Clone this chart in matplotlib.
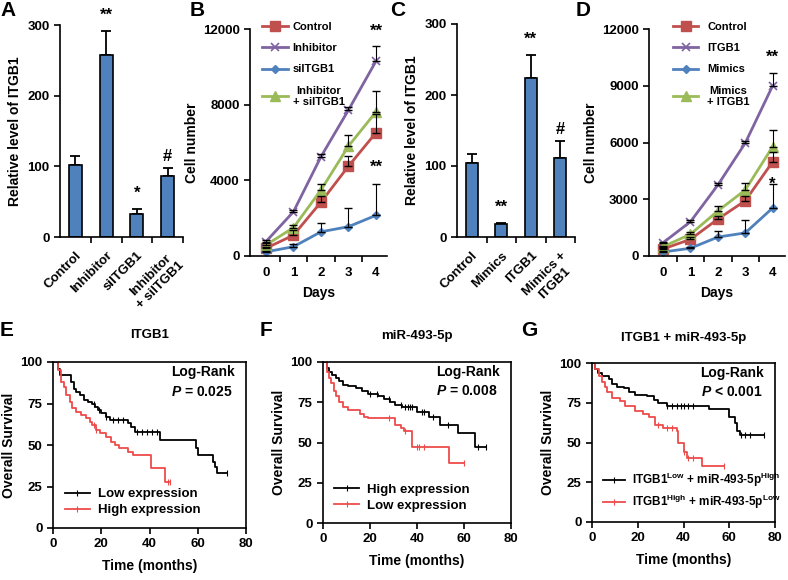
import numpy as np
import matplotlib
matplotlib.use('Agg')
import matplotlib.pyplot as plt
from matplotlib.lines import Line2D

plt.rcParams['font.family'] = ['Liberation Sans', 'DejaVu Sans']
plt.rcParams['font.weight'] = 'bold'
plt.rcParams['axes.labelweight'] = 'bold'
plt.rcParams['mathtext.fontset'] = 'custom'
plt.rcParams['mathtext.rm'] = 'Liberation Sans:bold'
plt.rcParams['mathtext.it'] = 'Liberation Sans:italic:bold'
plt.rcParams['mathtext.bf'] = 'Liberation Sans:bold'

# ---- panel A / C data (relative ITGB1 level)
a_labels = ['Control', 'Inhibitor', 'siITGB1', 'Inhibitor\n+ siITGB1']
a_vals = [102, 258, 32, 86]
a_err = [13, 33, 8, 11]
a_marks = ['', '**', '*', '#']

c_labels = ['Control', 'Mimics', 'ITGB1', 'Mimics +\nITGB1']
c_vals = [104, 18, 224, 111]
c_err = [13, 2, 32, 24]
c_marks = ['', '**', '**', '#']

# ---- panel B / D data (cell number by day)
days = [0, 1, 2, 3, 4]
b_names = ['Control', 'Inhibitor', 'siITGB1', 'Inhibitor\n+ siITGB1']
b_control = [410, 1100, 2850, 4750, 6520]
b_control_err = [80, 250, 300, 550, 1000]
b_inhibitor = [760, 2340, 5250, 7720, 10300]
b_inhibitor_err = [100, 100, 150, 150, 800]
b_si = [220, 490, 1280, 1550, 2150]
b_si_err = [50, 150, 470, 1000, 1650]
b_combo = [580, 1500, 3490, 5810, 7620]
b_combo_err = [100, 150, 300, 600, 1120]

d_names = ['Control', 'ITGB1', 'Mimics', 'Mimics\n+ ITGB1']
d_control = [370, 880, 1950, 2920, 4980]
d_control_err = [60, 100, 150, 250, 500]
d_itgb1 = [700, 1810, 3750, 5970, 9000]
d_itgb1_err = [60, 80, 100, 100, 650]
d_mimics = [210, 410, 1000, 1220, 2540]
d_mimics_err = [40, 80, 340, 690, 1270]
d_combo = [490, 1150, 2380, 3490, 5780]
d_combo_err = [60, 100, 260, 390, 880]

# ---- Kaplan-Meier data (step times in months, survival in %)
e_low_t = [0, 2, 3, 7.5, 8.6, 9.7, 11, 13, 14.5, 16, 17.5, 18.5, 20, 22, 23.5, 31, 32.5, 34, 44.3, 59.2, 60.2, 61, 66.4, 67, 68, 72]
e_low_s = [100, 96, 92, 88, 84, 82, 80, 77, 76, 75, 73, 71, 69, 67, 65, 63, 61, 58, 53, 48, 44, 44, 40, 37, 33, 33]
e_low_cens = [17, 19, 22, 25, 27, 29, 35, 37, 39, 41, 43, 72]
e_high_t = [0, 2, 3.5, 4.4, 5.5, 6.9, 8, 9.7, 11.8, 13.6, 15.2, 16.3, 18, 19.4, 22, 24, 25.6, 27.4, 31, 33, 40.8, 46.6, 48.4]
e_high_s = [100, 95, 88, 85, 80, 76, 72, 70, 68, 66, 64, 62, 59, 57, 55, 52, 50, 48, 46, 44, 36, 28, 28]
e_high_cens = [17, 18, 47.5, 48.4]

f_high_t = [0, 1.5, 2.5, 4, 5.5, 7, 8.5, 10.5, 14, 16.5, 19, 23.5, 26, 28.5, 30.6, 33.5, 40, 45, 50, 57.6, 64.8, 69.5]
f_high_s = [100, 96, 94, 92, 90, 88, 86, 85, 84, 82, 80, 79, 77, 75, 73, 72, 69, 66, 61, 56, 47, 47]
f_high_cens = [20, 23, 28, 33, 35, 36, 37, 38, 42, 43, 47, 53, 66, 69.5]
f_low_t = [0, 1.5, 2.5, 3.5, 4.5, 5.5, 7, 8.5, 10.5, 15.6, 17.5, 19, 30.6, 33, 34.5, 38, 53.5, 60]
f_low_s = [100, 94, 90, 87, 82, 79, 75, 72, 70, 68, 66, 65, 61, 59, 57, 47, 37, 37]
f_low_cens = [28, 35, 40, 41, 43, 60]

g_good_t = [0, 1.5, 2.5, 4.4, 7.3, 8.7, 11, 13.8, 16, 19, 24, 27, 29, 32.7, 51, 60, 62.5, 63.5, 64.5, 75]
g_good_s = [100, 96, 94, 92, 90, 87, 85, 84, 82, 80, 79, 77, 75, 73, 71, 66, 62, 57, 55, 55]
g_good_cens = [33, 35, 37, 39, 40, 42, 44, 65, 67, 69, 75]
g_bad_t = [0, 1.5, 3, 4.4, 5.8, 6.5, 8.7, 12.4, 14.5, 19, 22.5, 24.7, 27.6, 31, 37, 37.8, 40, 41.5, 48, 57.5]
g_bad_s = [100, 96, 92, 88, 85, 82, 78, 76, 73, 70, 68, 66, 61, 59, 57, 50, 44, 40, 35, 35]
g_bad_cens = [29, 33, 35, 40, 42, 44, 57.5]

BAR_BLUE = '#4F81BD'
RED = '#C0504D'
PURPLE = '#8064A2'
GREEN = '#9BBB59'
KM_RED = '#EE4B4B'

fig = plt.figure(figsize=(7.88, 5.8), dpi=100)
W, H = 788.0, 580.0


def rect(l, t, r, b):
    return [l / W, 1 - b / H, (r - l) / W, (b - t) / H]


def bar_panel(box, labels, vals, errs, marks):
    ax = fig.add_axes(box)
    x = np.arange(len(vals))
    ax.errorbar(x, vals, yerr=[np.zeros(len(errs)), errs], fmt='none', ecolor='black',
                elinewidth=1.3, capsize=3.5, capthick=1.3, zorder=1)
    ax.bar(x, vals, width=0.42, color=BAR_BLUE, edgecolor='black', linewidth=1.2, zorder=2)
    for xi, v, e, m in zip(x, vals, errs, marks):
        if m:
            off = 0.075 * 300 if '*' in m else 0.055 * 300
            ax.text(xi, v + e + off, m, ha='center', va='center', fontsize=12,
                    fontweight='bold', clip_on=False)
    ax.set_xlim(-0.5, 3.5)
    ax.set_ylim(0, 300)
    ax.set_yticks([0, 100, 200, 300])
    ax.set_xticks(x)
    ax.set_xticklabels(labels, rotation=45, ha='right', rotation_mode='anchor',
                       multialignment='center', fontsize=9.5)
    ax.set_xticks([0.5, 1.5, 2.5, 3.5], minor=True)
    ax.tick_params(axis='x', which='major', length=0, pad=9)
    ax.tick_params(axis='x', which='minor', length=4, width=1.2, direction='out')
    ax.tick_params(axis='y', length=4, width=1.2, direction='out', labelsize=9.5)
    for s in ['top', 'right']:
        ax.spines[s].set_visible(False)
    for s in ['left', 'bottom']:
        ax.spines[s].set_linewidth(1.2)
    ax.set_ylabel('Relative level of ITGB1', fontsize=10, labelpad=4)
    return ax


def line_panel(box, series, names, yticks, xlim, leg_x, leg_pad, marks):
    ax = fig.add_axes(box)
    styles = [(RED, 's', 7), (PURPLE, 'x', 6), (BAR_BLUE, 'D', 4.5), (GREEN, '^', 7)]
    for (vals, errs), name, (col, mk, ms) in zip(series, names, styles):
        ax.plot(days, vals, color=col, marker=mk, ms=ms, mew=1.2 if mk == 'x' else 1,
                lw=2, label=name, zorder=2)
        ax.errorbar(days, vals, yerr=[np.zeros(len(errs)), errs], fmt='none',
                    ecolor='black', elinewidth=0.8, capsize=3, capthick=1, zorder=3)
    for (xm, ym, txt) in marks:
        ax.text(xm, ym, txt, ha='center', va='center', fontsize=12, fontweight='bold',
                clip_on=False)
    ax.set_xlim(*xlim)
    ax.set_ylim(0, 12000)
    ax.set_yticks(yticks)
    ax.set_xticks(days)
    ax.set_xticks([0.5, 1.5, 2.5, 3.5], minor=True)
    ax.tick_params(axis='x', which='major', length=0, pad=8, labelsize=9.5)
    ax.tick_params(axis='x', which='minor', length=4, width=1.2, direction='out')
    ax.tick_params(axis='y', length=4, width=1.2, direction='out', labelsize=9.5)
    for s in ['top', 'right']:
        ax.spines[s].set_visible(False)
    for s in ['left', 'bottom']:
        ax.spines[s].set_linewidth(1.2)
    ax.set_ylabel('Cell number', fontsize=10, labelpad=3)
    ax.set_xlabel('Days', fontsize=10, labelpad=5)
    leg = ax.legend(loc='upper left', bbox_to_anchor=(leg_x, 1.03), frameon=False,
                    fontsize=8, handlelength=2.3, handletextpad=leg_pad, labelspacing=1.0,
                    borderpad=0, borderaxespad=0)
    for t in leg.get_texts():
        t.set_multialignment('center')
    return ax


def km_panel(box, curves, title, ptext, leg_fs):
    ax = fig.add_axes(box)
    handles = []
    for t, s, cens, col, lab in curves:
        ax.step(t, s, where='post', color=col, lw=1.3)
        idx = np.searchsorted(t, cens, side='right') - 1
        cy = np.array(s)[idx]
        ax.plot(cens, cy, ls='none', marker='|', ms=4, mew=0.8, color=col)
        handles.append(Line2D([], [], color=col, lw=1.3, marker='|', ms=4, mew=0.8, label=lab))
    ax.set_xlim(0, 80)
    ax.set_ylim(0, 100)
    ax.set_xticks([0, 20, 40, 60, 80])
    ax.set_yticks([0, 25, 50, 75, 100])
    ax.tick_params(length=4, width=1.2, direction='out', labelsize=9.5)
    for s in ax.spines.values():
        s.set_linewidth(1.2)
    ax.set_xlabel('Time (months)', fontsize=10, labelpad=6)
    ax.set_ylabel('Overall Survival', fontsize=10, labelpad=3)
    ax.text(0.5, 1.16, title, transform=ax.transAxes, ha='center', va='center',
            fontsize=9.5, fontweight='bold')
    ax.text(0.94, 0.94, 'Log-Rank', transform=ax.transAxes, ha='right', va='center',
            fontsize=10, fontweight='bold')
    ax.text(0.93, 0.82, ptext, transform=ax.transAxes, ha='right', va='center',
            fontsize=10, fontweight='bold')
    ax.legend(handles=handles, loc='lower left', bbox_to_anchor=(0.06, 0.07), frameon=False,
              fontsize=leg_fs, handlelength=1.9, handletextpad=0.6, labelspacing=0.3,
              borderpad=0, borderaxespad=0)
    return ax


bar_panel(rect(60, 25, 183, 237), a_labels, a_vals, a_err, a_marks)
bar_panel(rect(457, 24, 575, 237), c_labels, c_vals, c_err, c_marks)

line_panel(rect(250, 29, 387, 256),
           [(b_control, b_control_err), (b_inhibitor, b_inhibitor_err),
            (b_si, b_si_err), (b_combo, b_combo_err)],
           b_names, [0, 4000, 8000, 12000], (-0.58, 4.4), 0.088, 0.45,
           [(4, 11900, '**'), (4, 4700, '**')])
line_panel(rect(649, 29, 785, 256),
           [(d_control, d_control_err), (d_itgb1, d_itgb1_err),
            (d_mimics, d_mimics_err), (d_combo, d_combo_err)],
           d_names, [0, 3000, 6000, 9000, 12000], (-0.51, 4.45), 0.176, 0.8,
           [(4, 10500, '**'), (4, 3800, '*')])

km_panel(rect(53, 362, 246, 528),
         [(e_low_t, e_low_s, e_low_cens, 'black', 'Low expression'),
          (e_high_t, e_high_s, e_high_cens, KM_RED, 'High expression')],
         'ITGB1', r'$P$ = 0.025', 9.5)
km_panel(rect(323, 362, 511, 523),
         [(f_high_t, f_high_s, f_high_cens, 'black', 'High expression'),
          (f_low_t, f_low_s, f_low_cens, KM_RED, 'Low expression')],
         'miR-493-5p', r'$P$ = 0.008', 9.5)
km_panel(rect(592, 363, 775, 522),
         [(g_good_t, g_good_s, g_good_cens, 'black',
           r'ITGB1$^{\mathrm{Low}}$ + miR-493-5p$^{\mathrm{High}}$'),
          (g_bad_t, g_bad_s, g_bad_cens, KM_RED,
           r'ITGB1$^{\mathrm{High}}$ + miR-493-5p$^{\mathrm{Low}}$')],
         'ITGB1 + miR-493-5p', r'$P$ < 0.001', 8.5)

for lab, x, y in [('A', 8, 11), ('B', 197, 11), ('C', 398, 11), ('D', 583, 11),
                  ('E', 7, 330), ('F', 266, 330), ('G', 529, 331)]:
    fig.text(x / W, 1 - y / H, lab, ha='center', va='center', fontsize=15, fontweight='bold')

fig.savefig('out.png', dpi=100)
